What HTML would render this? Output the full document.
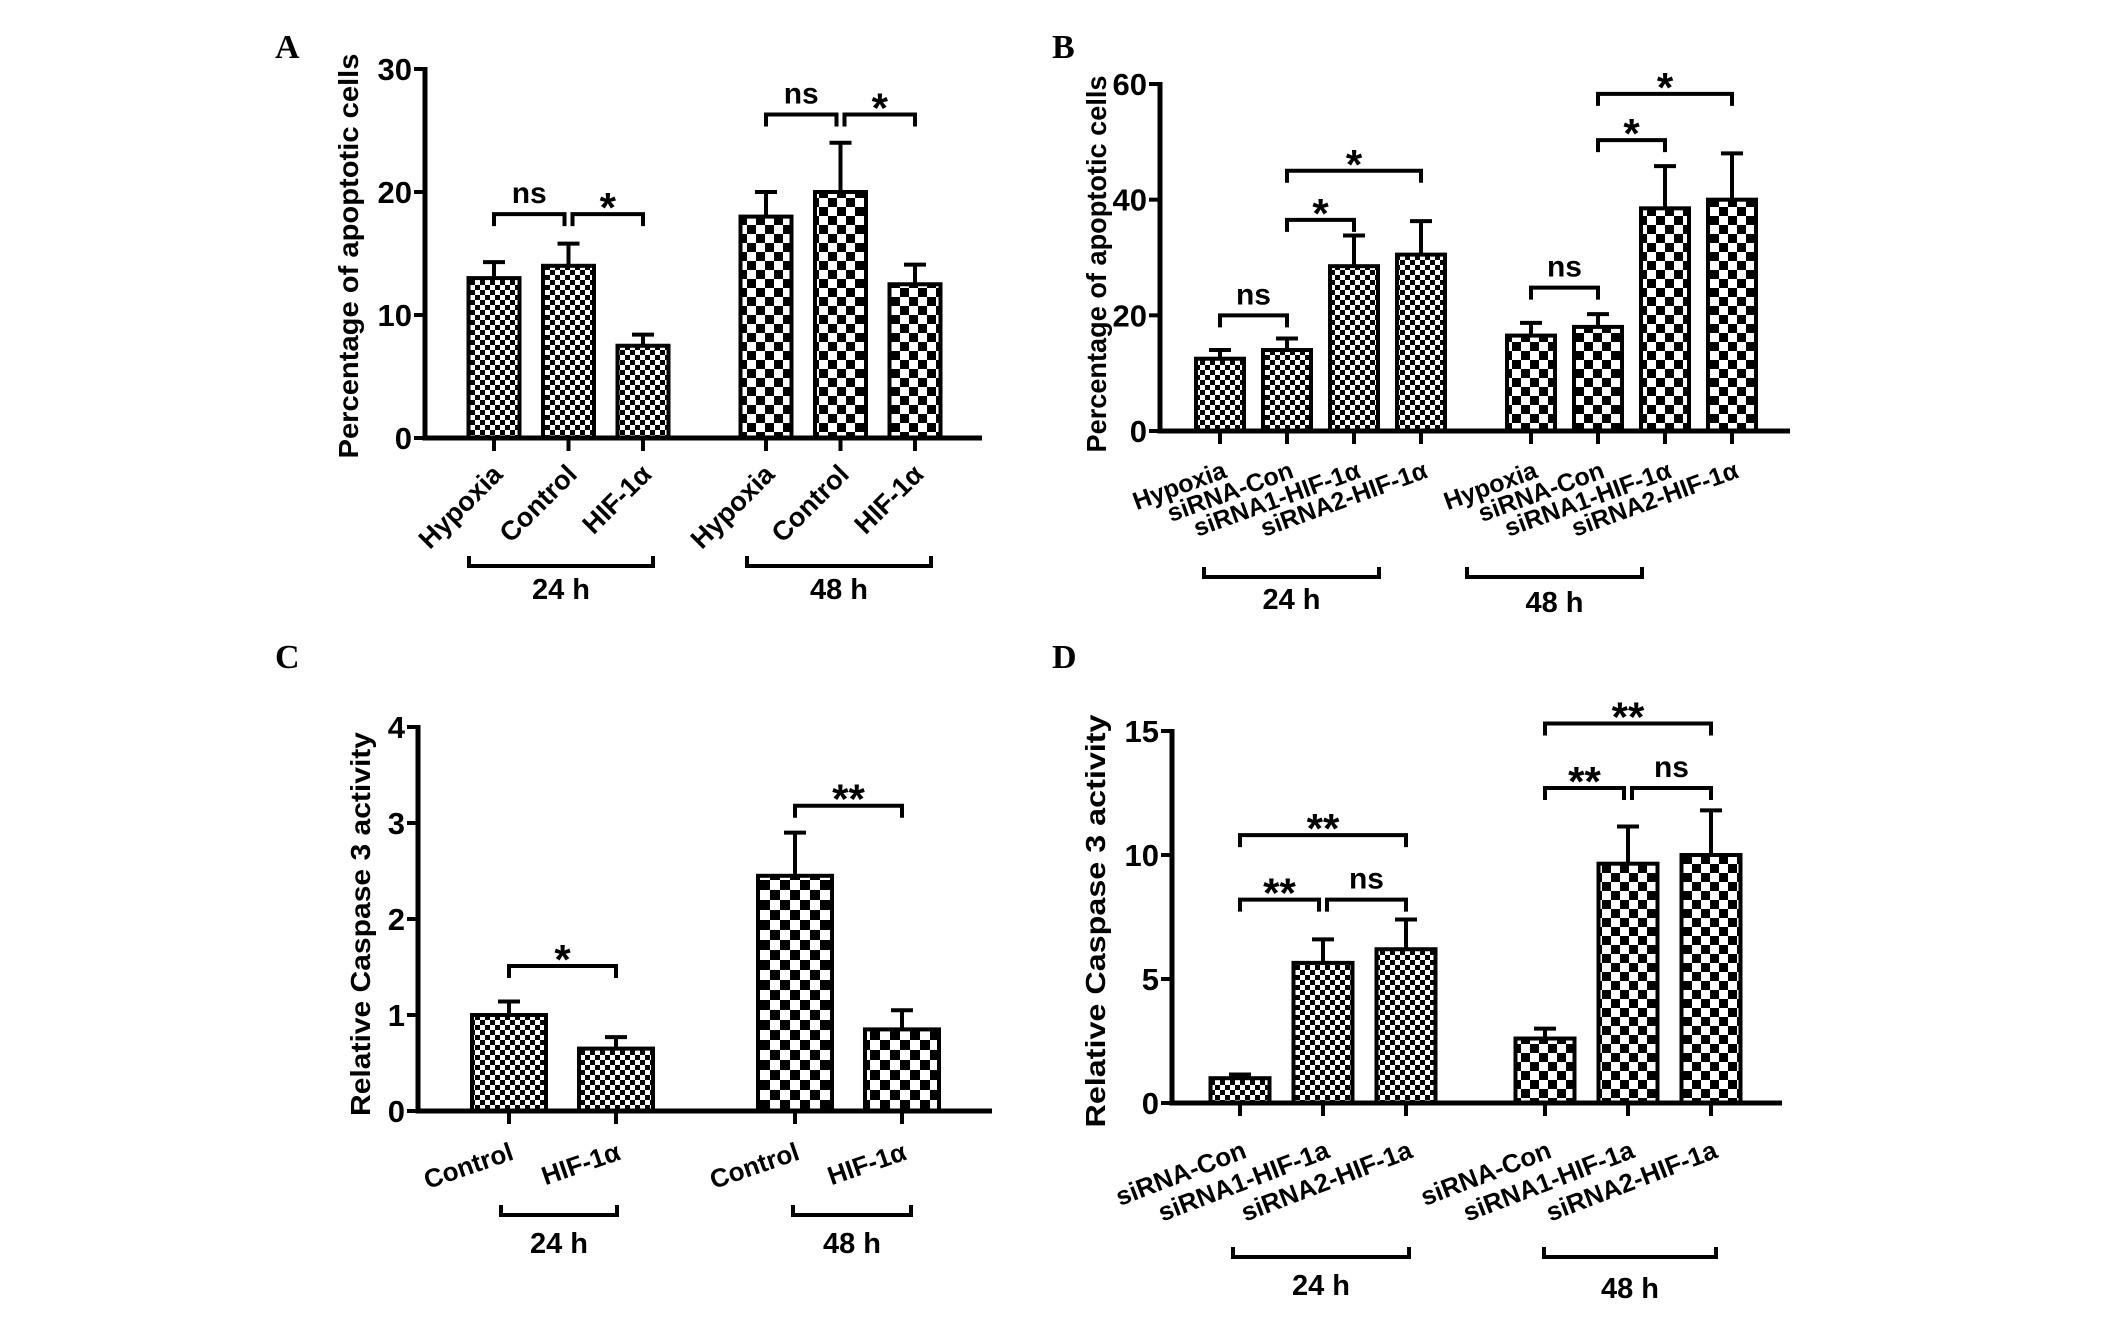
<!DOCTYPE html>
<html><head><meta charset="utf-8"><style>
html,body{margin:0;padding:0;background:#fff;}
svg{display:block;}
text{font-family:"Liberation Sans Narrow","Liberation Sans",sans-serif;font-weight:bold;fill:#000;}
.serif{font-family:"Liberation Serif",serif;}
</style></head><body>
<svg id="fig" width="2126" height="1330" viewBox="0 0 2126 1330" xmlns="http://www.w3.org/2000/svg">
<defs>
<pattern id="fine" width="10" height="10" patternUnits="userSpaceOnUse"><rect width="10" height="10" fill="#fff"/><rect width="5" height="5" fill="#000"/><rect x="5" y="5" width="5" height="5" fill="#000"/></pattern>
<pattern id="coarse" width="18" height="18" patternUnits="userSpaceOnUse"><rect width="18" height="18" fill="#fff"/><rect width="9" height="9" fill="#000"/><rect x="9" y="9" width="9" height="9" fill="#000"/></pattern>
<pattern id="coarseC" width="20" height="20" patternUnits="userSpaceOnUse"><rect width="20" height="20" fill="#fff"/><rect width="10" height="10" fill="#000"/><rect x="10" y="10" width="10" height="10" fill="#000"/></pattern>
</defs>
<text class="serif" x="275" y="58" font-size="34">A</text>
<text class="serif" x="1052" y="58" font-size="34">B</text>
<text class="serif" x="275" y="668" font-size="34">C</text>
<text class="serif" x="1052" y="668" font-size="34">D</text>
</svg>
<script>
// ---- Panel A data ----
const aCategories = ["Hypoxia","Control","HIF-1α","Hypoxia","Control","HIF-1α"];
const aValues = [13, 14, 7.5, 18, 20, 12.5];
const aErrors = [1.3, 1.8, 0.9, 2.0, 4.0, 1.6];
const aTicks = [0, 10, 20, 30];
const aSig = [[0,1,"ns",18.2],[1,2,"*",18.2],[3,4,"ns",26.3],[4,5,"*",26.3]];
// ---- Panel B data ----
const bCategories = ["Hypoxia","siRNA-Con","siRNA1-HIF-1α","siRNA2-HIF-1α","Hypoxia","siRNA-Con","siRNA1-HIF-1α","siRNA2-HIF-1α"];
const bValues = [12.5, 14, 28.5, 30.5, 16.5, 18, 38.5, 40];
const bErrors = [1.5, 2.0, 5.3, 5.8, 2.2, 2.2, 7.3, 8.0];
const bTicks = [0, 20, 40, 60];
const bSig = [[0,1,"ns",20],[1,2,"*",36.5],[1,3,"*",45],[4,5,"ns",24.8],[5,6,"*",50.3],[5,7,"*",58.3]];
// ---- Panel C data ----
const cCategories = ["Control","HIF-1α","Control","HIF-1α"];
const cValues = [1.0, 0.65, 2.45, 0.85];
const cErrors = [0.14, 0.12, 0.45, 0.2];
const cTicks = [0, 1, 2, 3, 4];
const cSig = [[0,1,"*",1.51],[2,3,"**",3.18]];
// ---- Panel D data ----
const dCategories = ["siRNA-Con","siRNA1-HIF-1a","siRNA2-HIF-1a","siRNA-Con","siRNA1-HIF-1a","siRNA2-HIF-1a"];
const dValues = [1.0, 5.65, 6.2, 2.6, 9.65, 10.0];
const dErrors = [0.15, 0.95, 1.2, 0.4, 1.5, 1.8];
const dTicks = [0, 5, 10, 15];
const dSig = [[0,1,"**",8.2],[1,2,"ns",8.2],[0,2,"**",10.8],[3,4,"**",12.7],[4,5,"ns",12.7],[3,5,"**",15.3]];

const NS = "http://www.w3.org/2000/svg";
const svg = document.getElementById("fig");
function mk(tag, attrs, parent, txt){
  const e = document.createElementNS(NS, tag);
  for (const k in attrs) e.setAttribute(k, attrs[k]);
  if (txt !== undefined) e.textContent = txt;
  (parent || svg).appendChild(e);
  return e;
}

function panel(cfg){
  const g = mk("g", {});
  
  
  const max = cfg.ticks[cfg.ticks.length-1];
  const y = v => cfg.y0 - v / max * (cfg.y0 - cfg.yTop);
  const x = i => cfg.x0 + i * cfg.step + (i >= cfg.groupSize ? cfg.gap : 0);
  cfg.values.forEach((v, i) => {
    const cx = x(i);
    const r = mk("rect", {x: cx - cfg.barW/2, y: y(v), width: cfg.barW, height: cfg.y0 - y(v),
      fill: i < cfg.groupSize ? "url(#fine)" : "url(#" + cfg.coarse + ")", stroke: "#000", "stroke-width": 4}, g);
    
    
    const e = cfg.errors[i];
    const eb = mk("path", {d: `M${cx},${y(v)} V${y(v+e)} M${cx-11},${y(v+e)} H${cx+11}`, stroke: "#000", "stroke-width": 4, fill: "none"}, g);
    
    
    mk("line", {x1: cx, x2: cx, y1: cfg.y0, y2: cfg.y0 + 13, stroke: "#000", "stroke-width": 4}, g);
    const t = mk("text", {transform: `translate(${cx + cfg.lab[0]},${cfg.y0 + cfg.lab[1]}) rotate(${cfg.angle})`,
      "text-anchor": "end", "font-size": cfg.labFont}, g, cfg.categories[i]);
    
    
  });
  const ax = mk("path", {d: `M${cfg.axisX},${cfg.yTop - 2} V${cfg.y0} H${cfg.xEnd}`, stroke: "#000", "stroke-width": 5, fill: "none"}, g);
  
  
  cfg.ticks.forEach(tv => {
    mk("line", {x1: cfg.axisX - 11, x2: cfg.axisX, y1: y(tv), y2: y(tv), stroke: "#000", "stroke-width": 4}, g);
    const t = mk("text", {x: cfg.axisX - 13, y: y(tv) + 11, "text-anchor": "end", "font-size": 31}, g, String(tv));
    
    
  });
  const yt = mk("text", {transform: `translate(${cfg.titleX},${cfg.titleMid}) rotate(-90)`, "text-anchor": "middle",
    "font-size": 28, textLength: cfg.titleLen, lengthAdjust: "spacingAndGlyphs", style: "font-family:'Liberation Sans',sans-serif"}, g, cfg.title);
  
  
  cfg.sig.forEach(s => {
    const yy = y(s[3]);
    const x1 = x(s[0]) + (cfg.sig.some(o => o[1] === s[0] && o[3] === s[3]) ? 4 : 0);
    const x2 = x(s[1]) - (cfg.sig.some(o => o[0] === s[1] && o[3] === s[3]) ? 4 : 0);
    const b = mk("path", {d: `M${x1},${yy + 12} V${yy} H${x2} V${yy + 12}`, stroke: "#000", "stroke-width": 4, fill: "none"}, g);
    
    
    const isStar = s[2].indexOf("*") >= 0;
    const t = mk("text", {x: (x1 + x2) / 2, y: isStar ? yy + 8 : yy - 11, "text-anchor": "middle",
      "font-size": isStar ? 42 : 30, style: "font-family:'Liberation Sans',sans-serif"}, g, s[2]);
    
    
  });
  cfg.groups.forEach(gr => {
    const b = mk("path", {d: `M${gr[0]},${gr[2] - 10} V${gr[2]} H${gr[1]} V${gr[2] - 10}`, stroke: "#000", "stroke-width": 4, fill: "none"}, g);
    
    
    const t = mk("text", {x: (gr[0] + gr[1]) / 2, y: gr[3], "text-anchor": "middle", "font-size": 29, style: "font-family:'Liberation Sans',sans-serif"}, g, gr[4]);
    
    
  });
}

panel({name:"panel-a", categories:aCategories, values:aValues, errors:aErrors, ticks:aTicks, sig:aSig,
  axisX:425, y0:438, yTop:69, xEnd:982, x0:494, step:74.5, gap:48.5, groupSize:3, barW:51, coarse:"coarse",
  lab:[10,38], angle:-45, labFont:27,
  title:"Percentage of apoptotic cells", titleX:358, titleMid:256, titleLen:405,
  groups:[[469,653,566,599,"24 h"],[747,931,566,599,"48 h"]]});
panel({name:"panel-b", categories:bCategories, values:bValues, errors:bErrors, ticks:bTicks, sig:bSig,
  axisX:1160, y0:431, yTop:84, xEnd:1790, x0:1220, step:67, gap:43, groupSize:4, barW:48, coarse:"coarse",
  lab:[8,46], angle:-20, labFont:25,
  title:"Percentage of apoptotic cells", titleX:1106, titleMid:264, titleLen:377,
  groups:[[1204,1379,577,609,"24 h"],[1467,1642,577,612,"48 h"]]});
panel({name:"panel-c", categories:cCategories, values:cValues, errors:cErrors, ticks:cTicks, sig:cSig,
  axisX:418, y0:1111, yTop:727, xEnd:992, x0:509, step:107, gap:72, groupSize:2, barW:74, coarse:"coarseC",
  lab:[6,48], angle:-19, labFont:26,
  title:"Relative Caspase 3 activity", titleX:370, titleMid:924, titleLen:384,
  groups:[[501,617,1215,1253,"24 h"],[793,911,1215,1253,"48 h"]]});
panel({name:"panel-d", categories:dCategories, values:dValues, errors:dErrors, ticks:dTicks, sig:dSig,
  axisX:1172, y0:1103, yTop:731, xEnd:1782, x0:1240, step:83, gap:56, groupSize:3, barW:59, coarse:"coarse",
  lab:[8,54], angle:-21, labFont:26,
  title:"Relative Caspase 3 activity", titleX:1105, titleMid:921, titleLen:413,
  groups:[[1233,1409,1257,1295,"24 h"],[1544,1716,1257,1298,"48 h"]]});
</script>
</body></html>
